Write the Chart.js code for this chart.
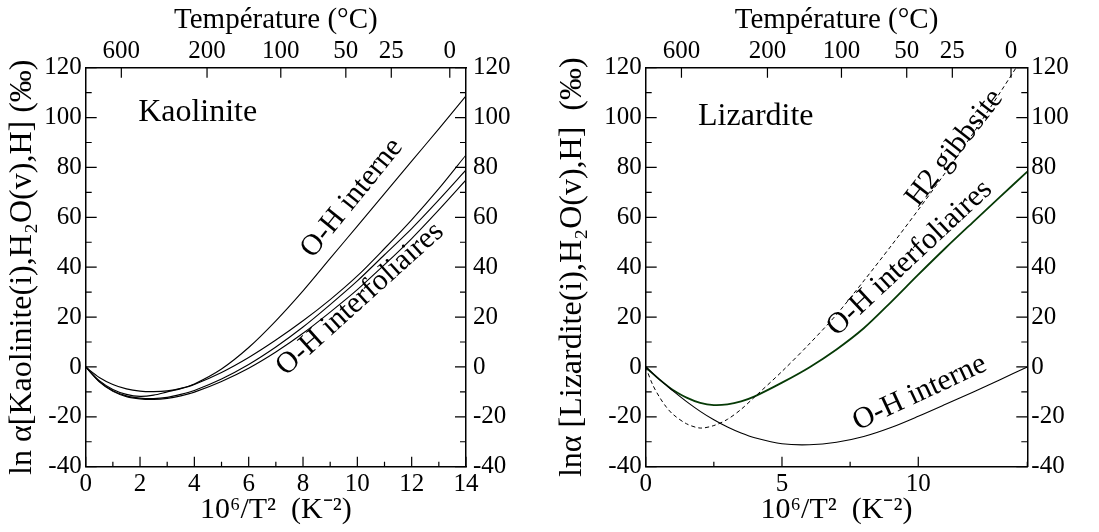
<!DOCTYPE html>
<html>
<head>
<meta charset="utf-8">
<script src="https://cdn.jsdelivr.net/npm/chart.js@4/dist/chart.umd.min.js"></script>
<style>
  body { margin: 0; background: #fff; width: 1099px; height: 532px; overflow: hidden; position: relative; }
  canvas { position: absolute; top: 0; }
  #kaol { left: 0; }
  #liz { left: 550px; }
</style>
</head>
<body>
<canvas id="kaol" width="550" height="532"></canvas>
<canvas id="liz" width="549" height="532"></canvas>
<script>
// Kaolinite panel : 10^6/T^2 and ln alpha (permil)
const kaolX = [0, 0.5, 1, 1.5, 2, 2.5, 3, 3.5, 4, 5, 6, 7, 8, 9, 10, 11, 12, 13, 14];
const kaolInterne = [0, -4.2, -7, -8.8, -9.7, -9.9, -9.6, -8.6, -6.8, -0.8, 7.8, 18.5, 30.5, 43.5, 56.5, 69.5, 82.5, 95.5, 108.7];
const kaolInterfol1 = [0, -5.5, -9, -11, -11.8, -11.3, -10, -8.7, -7, -2.2, 3.8, 10.8, 18.5, 27, 36.5, 47.5, 59, 71.5, 85];
const kaolInterfol2 = [0, -5.8, -9.5, -11.6, -12.5, -12.7, -12.2, -11, -9.4, -4.8, 1, 8, 16, 25, 34.5, 45, 55.5, 67, 79];
const kaolInterfol3 = [0, -6, -9.8, -11.9, -12.8, -13, -12.6, -11.6, -10.1, -5.8, -0.5, 6, 13.5, 22, 31, 41, 51.5, 63, 75];

// Lizardite panel
const lizX = [0, 0.25, 0.5, 0.75, 1, 1.5, 2, 2.5, 3, 3.5, 4, 5, 6, 7, 8, 9, 10, 11, 12, 13, 14];
const lizInterfol = [0, -2.6, -5, -7.2, -9.2, -12.3, -14.4, -15.3, -15, -13.8, -11.8, -6.3, -0.2, 7, 15.5, 26, 37, 47.7, 58, 68.2, 78.3];
const lizInterne = [0, -2.5, -5, -7.3, -9.6, -13.9, -17.8, -21.2, -24.1, -26.5, -28.4, -30.8, -31.2, -30.2, -27.9, -24.3, -19.8, -15, -10.1, -5.1, 0];
const lizGibbsite = [0, -7, -12, -16, -19, -22.8, -24.5, -23.5, -21, -17, -12, -1.8, 9.2, 21, 34.5, 48.5, 63, 78, 93.5, 110, 127];

// top axis tick labels (°C)
const tempTicks = [600, 200, 100, 50, 25, 0];

const FONT = "'Liberation Serif', 'Times New Roman', serif";
Chart.defaults.font.family = FONT;
Chart.defaults.color = '#000';

function pts(xs, ys) {
  return xs.map((x, i) => ({x: x, y: ys[i]}));
}
function invT2(t) {
  return 1e6 / Math.pow(t + 273.15, 2);
}

// ticks drawn inside the frame
function innerTicks(xMajor) {
  return {
    id: 'innerTicks',
    afterDatasetsDraw(chart) {
      const ctx = chart.ctx, a = chart.chartArea;
      ctx.save();
      ctx.strokeStyle = '#000';
      ctx.lineWidth = 1.2;
      ctx.beginPath();
      Object.values(chart.scales).forEach(s => {
        s.ticks.forEach(t => {
          const p = s.getPixelForValue(t.value);
          let len;
          if (s.id === 'xTop') len = 10;
          else if (s.axis === 'x') len = (Math.abs(t.value % xMajor) < 1e-6) ? 10 : 5;
          else len = (t.value % 20 === 0) ? 11 : 6;
          if (s.id === 'x') { ctx.moveTo(p, a.bottom); ctx.lineTo(p, a.bottom - len); }
          if (s.id === 'xTop') { ctx.moveTo(p, a.top); ctx.lineTo(p, a.top + len); }
          if (s.id === 'y') { ctx.moveTo(a.left, p); ctx.lineTo(a.left + len, p); }
          if (s.id === 'yRight') { ctx.moveTo(a.right, p); ctx.lineTo(a.right - len, p); }
        });
      });
      ctx.stroke();
      ctx.restore();
    }
  };
}

function textLabels(items) {
  return {
    id: 'textLabels',
    afterDatasetsDraw(chart) {
      const ctx = chart.ctx, xs = chart.scales.x, ys = chart.scales.y;
      items.forEach(it => {
        ctx.save();
        ctx.translate(xs.getPixelForValue(it.x), ys.getPixelForValue(it.y));
        ctx.rotate(-(it.angle || 0) * Math.PI / 180);
        ctx.font = it.size + 'px ' + FONT;
        ctx.fillStyle = '#000';
        ctx.textAlign = it.align || 'center';
        ctx.textBaseline = it.baseline || 'middle';
        ctx.fillText(it.text, 0, 0);
        ctx.restore();
      });
    }
  };
}

function fix(prop, v) {
  return function(s) {
    s[prop] = v;
    s.paddingLeft = 0; s.paddingRight = 0; s.paddingTop = 0; s.paddingBottom = 0;
  };
}

const border = {display: true, color: '#000', width: 1.5};
const noGrid = {display: false, drawTicks: false};
const tickFont = {family: FONT, size: 25};

function makeScales(xStep, xLabelStep, yTitle, leftW, rightW, rightPad) {
  return {
    x: {
      type: 'linear', position: 'bottom', min: 0, max: 14,
      grid: noGrid, border: border,
      ticks: {stepSize: xStep, autoSkip: false, maxRotation: 0, padding: 3, font: tickFont,
        callback: v => (Math.abs(v % xLabelStep) < 1e-6 ? v : '')},
      title: {display: true, text: '10⁶/T²  (K⁻²)', font: {family: FONT, size: 30}, padding: {top: 0, bottom: 4}},
      afterFit: fix('height', 65.3)
    },
    xTop: {
      type: 'linear', position: 'top', min: 0, max: 14,
      grid: noGrid, border: border,
      afterBuildTicks: s => { s.ticks = tempTicks.map(t => ({value: invT2(t)})); },
      ticks: {autoSkip: false, maxRotation: 0, padding: 1, font: tickFont,
        callback: (v, i) => tempTicks[i]},
      title: {display: true, text: 'Température (°C)', font: {family: FONT, size: 29}, padding: {top: 3, bottom: 0}},
      afterFit: fix('height', 67.7)
    },
    y: {
      type: 'linear', position: 'left', min: -40, max: 120,
      grid: noGrid, border: border,
      ticks: {stepSize: 10, autoSkip: false, padding: 4, font: tickFont,
        callback: v => (v % 20 === 0 ? v : '')},
      title: {display: true, text: yTitle, font: {family: FONT, size: 32}, padding: {top: 3, bottom: 0}},
      afterFit: fix('width', leftW)
    },
    yRight: {
      type: 'linear', position: 'right', min: -40, max: 120,
      grid: noGrid, border: border,
      ticks: {stepSize: 10, autoSkip: false, padding: rightPad, font: tickFont,
        callback: v => (v % 20 === 0 ? v : '')},
      afterFit: fix('width', rightW)
    }
  };
}

function line(data, opts) {
  return Object.assign({
    data: data, borderColor: '#000', borderWidth: 1.1, pointRadius: 0,
    fill: false, tension: 0.3
  }, opts || {});
}

const baseOptions = {
  responsive: false, animation: false, events: [],
  layout: {padding: 0},
  plugins: {legend: {display: false}, tooltip: {enabled: false}}
};

new Chart(document.getElementById('kaol'), {
  type: 'line',
  data: {
    datasets: [
      line(pts(kaolX, kaolInterne)),
      line(pts(kaolX, kaolInterfol1)),
      line(pts(kaolX, kaolInterfol2)),
      line(pts(kaolX, kaolInterfol3))
    ]
  },
  options: Object.assign({}, baseOptions, {
    scales: makeScales(1, 2, 'ln α[Kaolinite(i),H₂O(v),H] (‰)', 85.7, 84, 7)
  }),
  plugins: [innerTicks(2), textLabels([
    {text: 'Kaolinite', x: 1.93, y: 98.7, size: 32, align: 'left', baseline: 'alphabetic'},
    {text: 'O-H interne', x: 9.8, y: 67.7, size: 30, angle: 51},
    {text: 'O-H interfoliaires', x: 10.1, y: 27.2, size: 30, angle: 42}
  ])]
});

new Chart(document.getElementById('liz'), {
  type: 'line',
  data: {
    datasets: [
      line(pts(lizX, lizGibbsite), {borderDash: [4, 3], borderWidth: 1}),
      line(pts(lizX, lizInterne)),
      line(pts(lizX, lizInterfol), {borderColor: '#063a06', borderWidth: 1.8})
    ]
  },
  options: Object.assign({}, baseOptions, {
    scales: makeScales(2.5, 5, 'lnα [Lizardite(i),H₂O(v),H]  (‰)', 95.7, 71.7, 4)
  }),
  plugins: [innerTicks(5), textLabels([
    {text: 'Lizardite', x: 1.92, y: 97, size: 32, align: 'left', baseline: 'alphabetic'},
    {text: 'H2 gibbsite', x: 11.33, y: 87.8, size: 30, angle: 52},
    {text: 'O-H interfoliaires', x: 9.68, y: 43.6, size: 30, angle: 43},
    {text: 'O-H interne', x: 10.05, y: -10.4, size: 30, angle: 25}
  ])]
});
</script>
</body>
</html>
